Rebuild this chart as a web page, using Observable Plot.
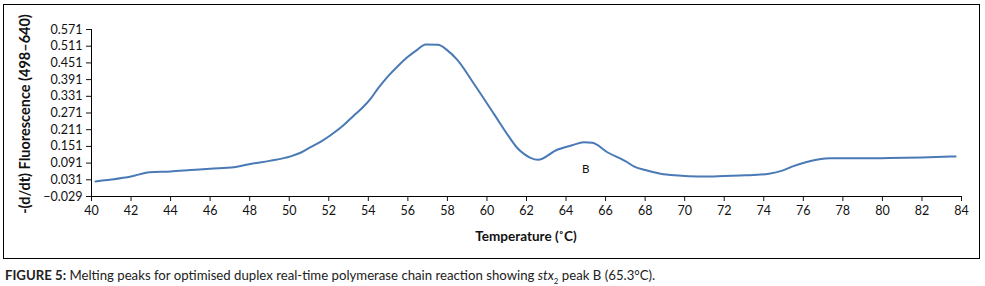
<!DOCTYPE html>
<html>
<head>
<meta charset="utf-8">
<script src="https://cdn.jsdelivr.net/npm/d3@7"></script>
<script src="https://cdn.jsdelivr.net/npm/@observablehq/plot@0.6"></script>
<style>
  html, body { margin: 0; padding: 0; background: #fff; }
  body { width: 985px; height: 286px; position: relative; overflow: hidden; font-family: Lato, "Open Sans", sans-serif; }
  #frame { position: absolute; left: 3px; top: 4px; width: 975px; height: 253px; border: 1px solid #000; }
  #frame svg { display: block; }
  #caption { position: absolute; left: 5px; top: 267px; font-size: 13.2px; color: #222; white-space: nowrap; }
  #caption b { font-weight: 700; }
</style>
</head>
<body>
<div id="frame"></div>
<div id="caption"><b>FIGURE 5:</b> Melting peaks for optimised duplex real-time polymerase chain reaction showing <i>stx</i><sub style="font-size:8px">2</sub> peak B (65.3°C).</div>
<script>
const temperature = [40.2, 41.0, 42.0, 42.93, 44.0, 45.0, 46.0, 47.2, 48.04, 49.0, 50.07, 50.6, 51.08, 51.6, 52.09, 52.7, 53.27, 53.7, 54.11, 54.5, 54.96, 55.5, 55.97, 56.47, 56.9, 57.52, 58.0, 58.5, 59.34, 60.35, 61.19, 61.5, 61.87, 62.2, 62.58, 63.55, 64.3, 64.9, 65.33, 66.09, 67.1, 67.43, 68.0, 68.78, 69.5, 70.21, 71.06, 72.0, 73.08, 74.26, 74.94, 75.5, 76.12, 77.38, 78.5, 80.33, 82.0, 83.7];
const fluorescence = [0.025, 0.032, 0.043, 0.058, 0.061, 0.066, 0.071, 0.076, 0.088, 0.099, 0.115, 0.129, 0.148, 0.168, 0.191, 0.224, 0.262, 0.290, 0.322, 0.360, 0.400, 0.440, 0.471, 0.498, 0.517, 0.516, 0.496, 0.462, 0.376, 0.268, 0.178, 0.148, 0.124, 0.110, 0.103, 0.139, 0.155, 0.166, 0.164, 0.130, 0.094, 0.079, 0.066, 0.053, 0.047, 0.044, 0.043, 0.045, 0.047, 0.053, 0.064, 0.080, 0.094, 0.108, 0.108, 0.109, 0.111, 0.115];
const yTicks = [-0.029, 0.031, 0.091, 0.151, 0.211, 0.271, 0.331, 0.391, 0.451, 0.511, 0.571];
const xTicks = [40, 42, 44, 46, 48, 50, 52, 54, 56, 58, 60, 62, 64, 66, 68, 70, 72, 74, 76, 78, 80, 82, 84];
const peakLabel = [{t: 64.99, v: 0.068, text: "B"}];
const xLabel = "Temperature (˚C)";
const yLabel = "-(d/dt) Fluorescence (498–640)";

const data = temperature.map((t, i) => ({t, v: fluorescence[i]}));
const fmt = d => d < 0 ? "\u2212" + Math.abs(d).toFixed(3) : d.toFixed(3);

const chart = Plot.plot({
  width: 975,
  height: 253,
  marginLeft: 87,
  marginRight: 18,
  marginTop: 24,
  marginBottom: 62,
  style: {fontFamily: "Lato, 'Open Sans', sans-serif", fontSize: "12px", color: "#111", background: "#fff"},
  x: {domain: [40, 84], label: null},
  y: {domain: [-0.029, 0.571], label: null},
  marks: [
    Plot.axisX({ticks: xTicks, tickSize: 5, tickPadding: 5, fontSize: 12.5, label: null}),
    Plot.axisY({ticks: yTicks, tickSize: 5, tickPadding: 4, fontSize: 12.5, label: null, tickFormat: fmt}),
    Plot.ruleY([-0.029], {stroke: "#000"}),
    Plot.ruleX([40], {stroke: "#000"}),
    Plot.line(data, {x: "t", y: "v", stroke: "#4a7ab5", strokeWidth: 2, curve: "monotone-x"}),
    Plot.text(peakLabel, {x: "t", y: "v", text: "text", fontSize: 11.5, fill: "#111"})
  ]
});

const svg = d3.select(chart);
svg.append("text")
  .attr("x", 522).attr("y", 236)
  .attr("text-anchor", "middle")
  .attr("font-weight", "bold").attr("font-size", 13.5)
  .attr("fill", "#111")
  .text(xLabel);
svg.append("text")
  .attr("transform", "translate(22,109) rotate(-90)")
  .attr("text-anchor", "middle").attr("dominant-baseline", "middle")
  .attr("font-weight", "bold").attr("font-size", 14.5)
  .attr("fill", "#111")
  .text(yLabel);

document.getElementById("frame").appendChild(chart);
</script>
</body>
</html>
